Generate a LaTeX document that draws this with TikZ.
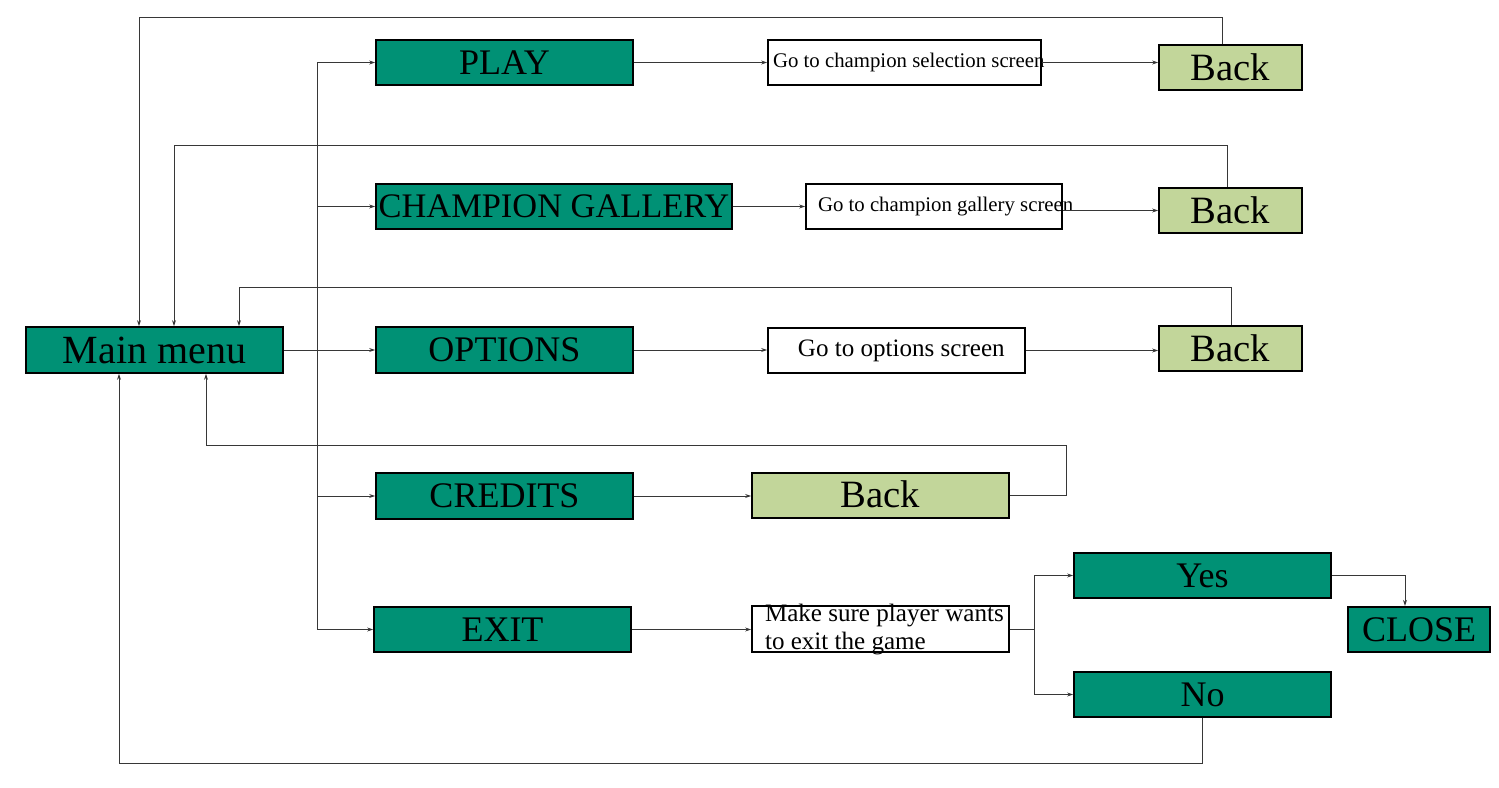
\documentclass[tikz,border=0pt]{standalone}
\usepackage{fontspec}
\setmainfont{Liberation Serif}
\usetikzlibrary{arrows.meta}
\definecolor{boxteal}{RGB}{0,145,117}
\definecolor{backgreen}{RGB}{194,214,154}
\definecolor{linegray}{RGB}{55,55,55}
\begin{document}
\begin{tikzpicture}[x=0.75pt,y=-0.75pt,
  box/.style={draw=black, line width=1.3pt, rectangle, inner sep=0pt,
    minimum width=192.75pt, minimum height=34.1pt, text=black},
  tealbox/.style={box, fill=boxteal, font=\fontsize{27}{30}\selectfont},
  greenbox/.style={box, fill=backgreen, font=\fontsize{29}{32}\selectfont},
  whitebox/.style={box, fill=white},
  smalltxt/.style={font=\fontsize{15.6}{18}\selectfont},
  midtxt/.style={font=\fontsize{18.8}{21}\selectfont},
  ln/.style={draw=linegray, line width=0.6pt},
  arr/.style={ln, -{Stealth[length=4.5pt,width=3pt]}}]
\fill[white] (0,0) rectangle (1499,788);
\useasboundingbox (0,0) rectangle (1499,788);

% main column
\node[tealbox, minimum height=34.5pt, font=\fontsize{30}{33}\selectfont] (main) at (154.5,350) {Main menu};
\node[tealbox] (play) at (504.5,62.5) {PLAY};
\node[tealbox, minimum width=267pt, font=\fontsize{25.8}{29}\selectfont] (champ) at (554,206.5) {\makebox[0pt]{CHAMPION GALLERY}};
\node[tealbox, minimum height=34.5pt] (opt) at (504.5,350) {OPTIONS};
\node[tealbox, minimum height=34.5pt] (cred) at (504.5,496) {CREDITS};
\node[tealbox] (exit) at (502.5,629.5) {EXIT};

% screens
\node[whitebox, smalltxt, minimum width=204.75pt] (gsel) at (904.5,62.5)
  {\makebox[0pt][l]{\kern-98.6pt Go to champion selection screen}};
\node[whitebox, smalltxt, minimum width=192pt] (ggal) at (934,206.5)
  {\makebox[0pt][l]{\kern-87pt Go to champion gallery screen}};
\node[whitebox, midtxt] (gopt) at (896.5,350.5)
  {\makebox[0pt][l]{\kern-73.9pt Go to options screen}};
\node[greenbox] (bcred) at (880.5,495.5) {\raisebox{2pt}{Back}};
\node[whitebox, midtxt, minimum height=34.5pt] (make) at (880.5,629)
  {\makebox[0pt][l]{\kern-86.6pt\raisebox{-15.5pt}[0pt][0pt]{\begin{tabular}[b]{@{}l@{}}Make sure player wants\\to exit the game\end{tabular}}}};

% back buttons
\node[greenbox, minimum width=107.25pt] (b1) at (1230.5,67.5) {Back};
\node[greenbox, minimum width=107.25pt] (b2) at (1230.5,210.5) {Back};
\node[greenbox, minimum width=107.25pt] (b3) at (1230.5,348.5) {Back};

% exit branch
\node[tealbox] (yes) at (1202.5,575.5) {Yes};
\node[tealbox] (no) at (1202.5,694.5) {No};
\node[tealbox, minimum width=106.5pt] (close) at (1419,629.5) {CLOSE};

% trunk
\coordinate (trunk) at (317,350);
\draw[ln] (trunk |- play.west) -- (trunk |- exit.west);
\draw[arr] (trunk |- play.west) -- (play.west);
\draw[arr] (trunk |- champ.west) -- (champ.west);
\draw[arr] (trunk |- cred.west) -- (cred.west);
\draw[arr] (trunk |- exit.west) -- (exit.west);
\draw[arr] (main.east) -- (opt.west);

% to screens
\draw[arr] (play.east) -- (gsel.west);
\draw[arr] (champ.east) -- (ggal.west);
\draw[arr] (opt.east) -- (opt.east -| gopt.west);
\draw[arr] (cred.east) -- (cred.east -| bcred.west);
\draw[arr] (exit.east) -- (exit.east -| make.west);
\draw[arr] (gsel.east) -- (gsel.east -| b1.west);
\draw[arr] (ggal.east |- b2.west) -- (b2.west);
\draw[arr] (gopt.east) -- (gopt.east -| b3.west);

% back loops
\draw[arr] (1222,0 |- b1.north) |- (139,17) -- (139,0 |- main.north);
\draw[arr] (1227,0 |- b2.north) |- (174,145) -- (174,0 |- main.north);
\draw[arr] (1231,0 |- b3.north) |- (239,287) -- (239,0 |- main.north);
\draw[arr] (bcred.east) -| (1066,445) -| (206,0 |- main.south);

% exit decision
\coordinate (split) at (1034,629);
\draw[ln] (make.east) -- (split);
\draw[arr] (split) |- (yes.west);
\draw[arr] (split) |- (no.west);
\draw[arr] (yes.east) -| (1405,0 |- close.north);
\draw[arr] (no.south) |- (119,763) -- (119,0 |- main.south);
\end{tikzpicture}
\end{document}
